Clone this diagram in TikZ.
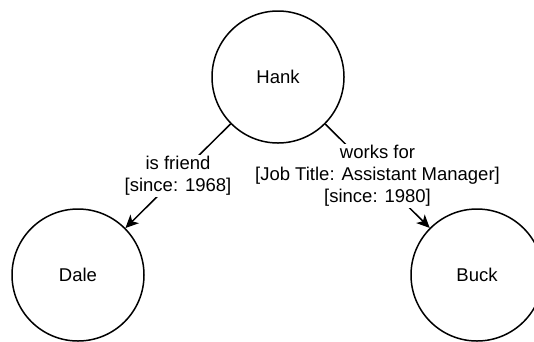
\documentclass[tikz,border=0pt]{standalone}
\usepackage{fontspec}
\setmainfont{Liberation Sans}
\usetikzlibrary{arrows.meta}
\begin{document}
\begin{tikzpicture}[x=1pt,y=-1pt,
  person/.style={circle,draw,line width=1.5pt,minimum size=132pt,inner sep=0pt,
    font=\fontsize{18.5}{22}\selectfont},
  rel/.style={line width=1.5pt,-{Stealth[length=13pt,width=12pt,inset=3.5pt]}},
  rellabel/.style={fill=white,align=center,inner sep=1pt,
    font=\fontsize{18.5}{22}\selectfont}]
\useasboundingbox (0,0) rectangle (534,341);
\clip (0,0) rectangle (534,341);
% people
\node[person] (hank) at (278,77) {Hank};
\node[person] (dale) at (78,275) {Dale};
\node[person] (buck) at (477,275) {Buck};
% relationships
\draw[rel] (hank) -- node[rellabel] {is friend\\{}[since: 1968]} (dale);
\draw[rel] (hank) -- node[rellabel] {works for\\{}[Job Title: Assistant Manager]\\{}[since: 1980]} (buck);
\end{tikzpicture}
\end{document}
